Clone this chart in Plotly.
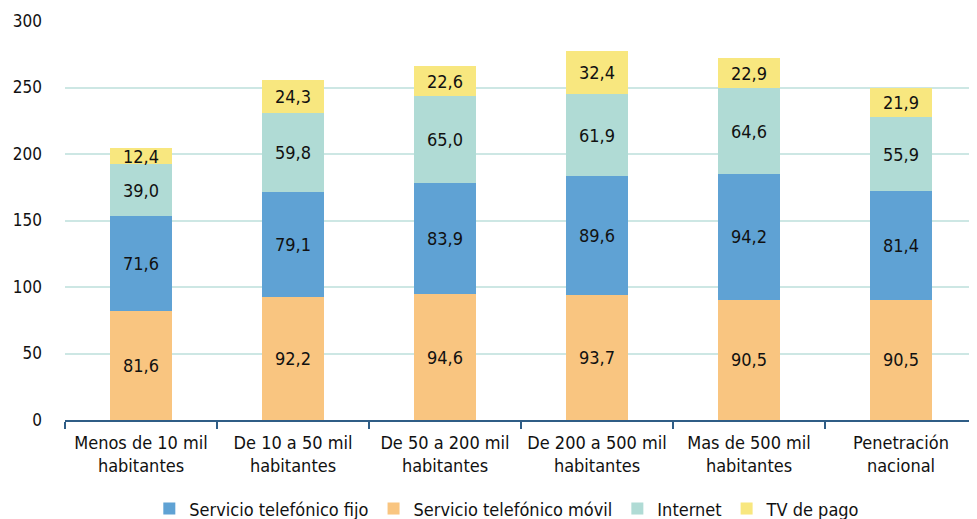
import plotly.graph_objects as go

categorias = ["Menos de 10 mil<br>habitantes", "De 10 a 50 mil<br>habitantes",
              "De 50 a 200 mil<br>habitantes", "De 200 a 500 mil<br>habitantes",
              "Mas de 500 mil<br>habitantes", "Penetración<br>nacional"]
movil = [81.6, 92.2, 94.6, 93.7, 90.5, 90.5]
fijo = [71.6, 79.1, 83.9, 89.6, 94.2, 81.4]
internet = [39.0, 59.8, 65.0, 61.9, 64.6, 55.9]
tv_pago = [12.4, 24.3, 22.6, 32.4, 22.9, 21.9]

font = "DejaVu Sans Condensed, Liberation Sans Narrow, sans-serif"

def fmt(vals):
    return [f"{v:.1f}".replace(".", ",") for v in vals]

series = [
    ("Servicio telefónico móvil", movil, "#F9C580", 2),
    ("Servicio telefónico fijo", fijo, "#5FA2D4", 1),
    ("Internet", internet, "#B0DBD5", 3),
    ("TV de pago", tv_pago, "#F8E77F", 4),
]

fig = go.Figure()
for name, vals, color, rank in series:
    fig.add_trace(go.Bar(
        x=categorias, y=vals, name=name, marker_color=color,
        marker_line_width=0, text=fmt(vals), textposition="inside",
        insidetextanchor="middle", textangle=0,
        textfont=dict(color="#111111", size=18, family=font),
        legendrank=rank,
    ))

fig.update_layout(
    barmode="stack", bargap=0.59,
    width=977, height=519,
    margin=dict(l=57, r=8, t=13, b=107, autoexpand=False),
    plot_bgcolor="white", paper_bgcolor="white",
    font=dict(family=font, size=18, color="#111111"),
    uniformtext=dict(mode="show", minsize=12),
    legend=dict(orientation="h", x=0.485, xanchor="center",
                yref="container", y=0.035, yanchor="middle",
                font=dict(size=18), itemsizing="constant", traceorder="normal"),
)
fig.update_xaxes(showline=True, linecolor="#2F5D86", linewidth=2,
                 ticks="outside", tickson="boundaries", tickcolor="#2F5D86",
                 ticklen=7, tickwidth=2, automargin=False, ticklabelstandoff=5)
fig.update_yaxes(range=[0, 300], dtick=50, gridcolor="#CDE7E4", gridwidth=2,
                 zeroline=False, ticklabelstandoff=22, automargin=False,
                 tickfont=dict(size=17))

fig.write_html("out.html")
